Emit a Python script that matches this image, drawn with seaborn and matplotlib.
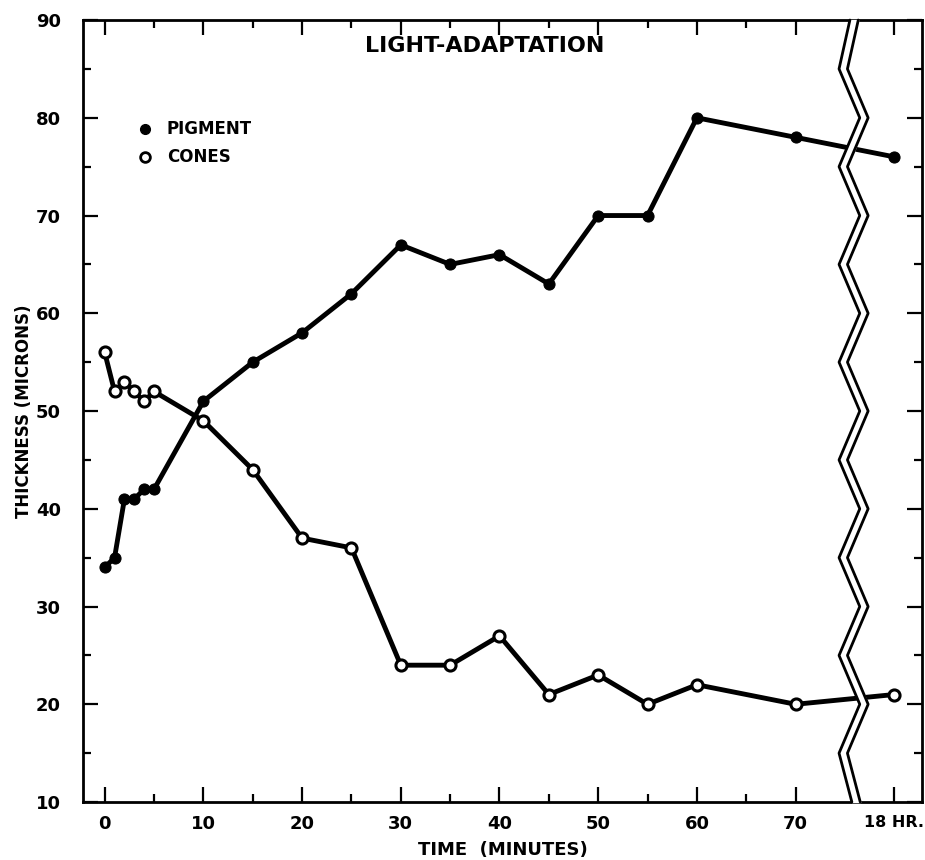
import numpy as np
import pandas as pd
import seaborn as sns
import matplotlib.pyplot as plt
from matplotlib.ticker import MultipleLocator, FixedLocator

# time in minutes; the last point (18 hr) is placed at 80 after the axis break
time_min = [0, 1, 2, 3, 4, 5, 10, 15, 20, 25, 30, 35, 40, 45, 50, 55, 60, 70, 80]
pigment = [34, 35, 41, 41, 42, 42, 51, 55, 58, 62, 67, 65, 66, 63, 70, 70, 80, 78, 76]
cones = [56, 52, 53, 52, 51, 52, 49, 44, 37, 36, 24, 24, 27, 21, 23, 20, 22, 20, 21]

x_ticks = [0, 10, 20, 30, 40, 50, 60, 70, 80]
x_ticklabels = ['0', '10', '20', '30', '40', '50', '60', '70', '18 HR.']
y_ticks = [10, 20, 30, 40, 50, 60, 70, 80, 90]

df = pd.DataFrame({'time': time_min, 'pigment': pigment, 'cones': cones})

sns.set_style("ticks")
plt.rcParams['font.family'] = ['DejaVu Sans']
plt.rcParams['font.weight'] = 'bold'
for key in ['text.color', 'axes.labelcolor', 'xtick.color', 'ytick.color', 'axes.edgecolor']:
    plt.rcParams[key] = 'black'

fig = plt.figure(figsize=(9.25, 8.6), dpi=100)
ax = fig.add_axes([0.0897, 0.0674, 0.907, 0.9093])

sns.lineplot(data=df, x='time', y='pigment', ax=ax, color='black', linewidth=3.5,
             marker='o', markersize=8, markerfacecolor='black', markeredgecolor='black')
sns.lineplot(data=df, x='time', y='cones', ax=ax, color='black', linewidth=3.5,
             marker='o', markersize=8, markerfacecolor='white', markeredgecolor='black',
             markeredgewidth=2.2)

ax.set_xlim(-2.2, 82.8)
ax.set_ylim(10, 90)
ax.set_xticks(x_ticks)
ax.set_xticklabels(x_ticklabels)
ax.set_yticks(y_ticks)
ax.xaxis.set_minor_locator(FixedLocator([5, 15, 25, 35, 45, 55, 65]))
ax.yaxis.set_minor_locator(MultipleLocator(5))
ax.tick_params(which='both', direction='in', top=True, right=True, width=1.6)
ax.tick_params(which='major', length=11)
ax.tick_params(which='minor', length=6)
ax.tick_params(axis='y', labelsize=13, pad=16)
ax.tick_params(axis='x', labelsize=13, pad=9)
for lab in ax.get_xticklabels() + ax.get_yticklabels():
    lab.set_fontweight('bold')
ax.get_xticklabels()[-1].set_fontsize(11.5)
for sp in ax.spines.values():
    sp.set_linewidth(2)

ax.set_xlabel('TIME  (MINUTES)', fontsize=13, fontweight='bold', labelpad=6)
ax.set_ylabel('THICKNESS (MICRONS)', fontsize=12, fontweight='bold', labelpad=2)
ax.grid(False)

ax.text(38.5, 87.3, 'LIGHT-ADAPTATION', ha='center', va='center', fontsize=16, fontweight='bold')

# hand-made legend
ax.plot([4.1], [78.9], 'o', color='black', markersize=7)
ax.plot([4.1], [76.0], 'o', markerfacecolor='white', markeredgecolor='black',
        markersize=7, markeredgewidth=2)
ax.text(6.3, 78.9, 'PIGMENT', va='center', fontsize=12, fontweight='bold')
ax.text(6.3, 76.0, 'CONES', va='center', fontsize=12, fontweight='bold')

# axis break: two zigzag lines with a white gap between them
yz = np.arange(90, 9, -5)
xz = np.where(np.arange(len(yz)) % 2 == 1, 74.4, 76.5)
xz[0] = 75.5
xz[-1] = 75.7
gap = 0.85
ax.fill_betweenx(yz, xz, xz + gap, color='white', zorder=5, clip_on=False)
ax.plot(xz, yz, color='black', linewidth=2, zorder=6, clip_on=False)
ax.plot(xz + gap, yz, color='black', linewidth=2, zorder=6, clip_on=False)

fig.savefig('out.png', dpi=100)
